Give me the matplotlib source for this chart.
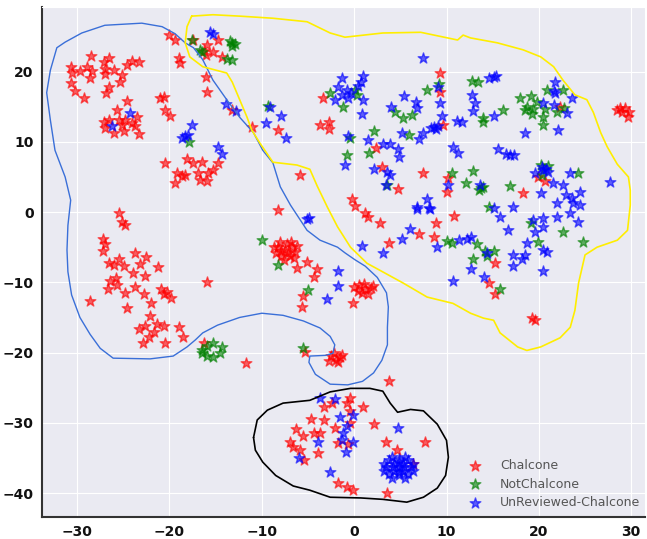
import numpy as np
import matplotlib
matplotlib.use("Agg")
import matplotlib.pyplot as plt
import seaborn as sns

# t-SNE coordinates
chalcone_x = [-28.5, -26.5, -27.1, -30.7, -30.6, -29.7, -28.9, -28.4, -28.6, -27.0, -27.0, -26.0, -25.1, -25.4,
              -24.6, -24.1, -23.3, -30.7, -30.2, -29.3, -26.5, -26.9,
              -25.7, -24.6, -27.1, -27.0, -25.5, -25.1, -24.1, -23.5, -23.7, -26.0, -24.9, -23.3, -26.5, -24.8,
              -21.0, -20.6, -20.5, -19.9, -20.0, -19.4, -19.0, -18.9,
              -17.4, -14.8, -15.9, -16.1, -15.3, -14.3, -16.3,
              -16.0, -15.9, -13.2, -11.1, -8.2, -5.9, -8.2, -3.4, -2.7, -3.7, -2.7,
              -17.4, -16.5, -16.9, -15.8, -15.3, -14.8, -16.7, -15.9, -20.5, -19.2, -18.3, -19.4, -18.1, -18.6,
              -25.5, -25.1, -24.8, -27.2, -27.0, -27.2, -26.5, -26.0, -25.5, -24.9, -23.7, -22.5, -23.2, -21.2,
              -23.9, -22.6, -26.4, -25.8, -26.7, -25.7, -24.8, -23.7, -22.8, -20.9, -20.3, -19.8, -20.6, -28.6,
              -24.6, -22.0, -22.1, -22.6, -23.3, -21.3, -20.6, -21.7, -22.2, -22.9, -20.5, -19.0, -18.5,
              -15.9, -16.3, -11.7, -5.3,
              -2.5, -2.0, -1.5, -2.2, -1.8, -2.7, -1.3,
              -7.5, -8.3, -6.7, -7.9, -7.0, -8.5, -6.4, -7.3, -8.0, -6.8, -7.6, -6.5, -8.7, -7.2, -6.2, -7.9,
              -5.1, -6.2, -4.0, -4.4, -5.5, -5.6,
              1.2, 0.5, 0.0, 1.8, 1.5, 0.8, 2.0, 1.1, 0.4, -0.1,
              0.1, 1.2, 1.5, 2.8, 3.8, 7.0, 8.9, 8.6, 10.8, 14.6, 15.3, 15.2, 19.3, 19.6, 3.8,
              9.3, 9.3, 9.6, 2.4, 3.0, 4.7, -0.2, 7.4, 10.2, 10.0, 18.3, 19.9, 20.7, 22.3,
              28.5, 29.0, 29.3, 29.6, 28.8, 29.8,
              -0.5, -2.4, -0.8, -3.3, 1.0, -0.5, -4.7, -3.3, -0.5, 2.1, -6.3, -2.1, -5.5, -4.3, -3.7, -7.0,
              -1.7, -0.7, -6.6, -5.9, -3.9, -5.4, -1.7, -0.8, -0.1, 3.6, 3.5, 7.7, 4.6, 6.4]
chalcone_y = [22.2, 21.9, 21.4, 20.7, 19.8, 20.1, 20.6, 20.1, 19.1, 20.4, 19.7, 20.2, 19.5, 18.5,
              20.9, 21.5, 21.4, 18.4, 17.2, 16.2, 17.8, 17.0,
              14.5, 15.8, 12.8, 12.0, 13.1, 12.4, 12.7, 13.5, 12.3, 11.3, 11.5, 11.1, 13.1, 13.1,
              16.2, 16.4, 14.5, 13.7, 25.2, 24.5, 21.9, 21.2,
              24.5, 24.5, 23.8, 22.4, 22.8, 22.1, 22.9,
              19.2, 17.1, 14.5, 12.1, 11.7, 5.3, 0.3, 16.2, 12.8, 12.4, 11.8,
              7.0, 7.1, 5.6, 5.6, 6.0, 7.0, 4.6, 4.4, 7.0, 5.6, 5.3, 4.1, 7.5, 5.1,
              -0.1, -1.4, -1.9, -3.8, -4.6, -5.6, -7.3, -7.5, -6.7, -7.7, -5.8, -6.4, -7.4, -7.8,
              -8.7, -9.1, -9.8, -9.4, -11.0, -10.4, -11.5, -10.7, -11.7, -11.0, -11.4, -12.3, -11.6, -12.7,
              -13.7, -13.0, -14.8, -16.2, -16.7, -16.0, -16.2, -17.1, -17.8, -18.7, -18.7, -16.4, -17.8,
              -9.9, -18.7, -21.5, -19.9,
              -20.5, -21.0, -20.7, -20.0, -21.3, -21.2, -20.3,
              -5.4, -5.0, -5.0, -6.2, -6.3, -5.8, -5.7, -4.5, -4.3, -4.2, -6.8, -6.6, -4.9, -5.8, -4.8, -5.5,
              -7.1, -8.0, -8.1, -9.2, -12.0, -13.5,
              -11.0, -10.4, -10.7, -10.8, -11.6, -11.5, -10.5, -10.2, -11.3, -13.0,
              0.8, -0.1, -0.7, -1.6, -4.4, -3.1, -1.6, -3.5, -0.6, -10.1, -7.3, -11.7, -15.1, -15.3, -24.1,
              19.8, 17.1, 12.4, 9.1, 6.4, 3.3, 1.9, 5.6, 4.8, 2.9, 2.7, 5.0, 4.4, 15.0,
              14.6, 14.3, 14.8, 13.6, 14.8, 14.3,
              -26.4, -27.2, -27.2, -27.8, -27.8, -28.3, -29.5, -29.6, -30.0, -30.2, -30.9, -30.8, -31.9, -31.5, -31.5, -32.8,
              -32.9, -33.0, -33.5, -33.9, -34.3, -35.3, -38.6, -39.2, -39.5, -40.0, -32.8, -32.8, -33.9, -35.9]

notchalcone_x = [-17.6, -16.7, -16.5, -13.2, -13.5, -12.9, -13.2, -13.8, -13.2, -9.3, -17.9, -10.0, -8.3, -5.0, -5.5,
                 -16.5, -15.9, -15.3, -14.3, -14.5, -15.3, -15.9, -16.5,
                 0.1, 0.3, -1.2, -2.6, 2.1, -0.5, -0.8, 1.6, 3.6, 7.9, 9.2, 4.4, 5.3, 6.3, 5.9, 12.8, 13.4, 14.0,
                 13.9, 10.6, 12.9, 12.1, 13.7, 13.9, 13.5, 16.9, 16.1,
                 18.0, 19.1, 19.8, 18.7, 19.4, 18.5, 20.7, 22.0, 22.7, 20.4, 19.3, 20.5, 20.9, 22.6,
                 20.2, 21.0, 20.3, 24.2,
                 19.1, 22.6, 24.8, 19.9, 14.6, 10.1, 10.6, 13.3, 12.9, 14.2, 15.1, 14.4, 15.8]
notchalcone_y = [24.5, 23.1, 22.8, 24.1, 24.4, 24.0, 23.7, 21.8, 21.7, 15.1, 10.0, -4.0, -7.6, -11.1, -19.4,
                 -19.7, -19.0, -18.7, -19.2, -20.1, -20.7, -20.5, -20.1,
                 17.4, 16.7, 15.0, 17.0, 11.5, 10.6, 8.1, 8.4, 3.8, 17.4, 18.3, 14.2, 13.4, 13.8, 11.0, 18.7, 18.5, 13.4,
                 12.8, 5.6, 5.8, 4.1, 3.4, 3.6, 3.1, 3.7, 14.5,
                 16.2, 16.5, 15.7, 15.0, 14.7, 14.5, 14.7, 14.2, 14.8, 13.5, 14.0, 12.4, 17.4, 17.4,
                 6.7, 6.6, 5.3, 5.6,
                 -1.6, -2.8, -4.3, -4.3, 0.7, -4.1, -4.4, -4.6, -6.7, -5.5, -5.5, -6.3, -11.0]

unreviewed_x = [-24.3, -26.2, -15.3, -15.6, -13.9, -12.8, -9.1, -9.6, -7.9, -7.4, -18.3, -18.0, -17.6, -18.6, -14.8,
                -14.3, -5.1, -4.9, -2.9, -1.8, -1.8,
                7.5, -1.3, 1.0, 0.7, -0.8, -1.3, -0.7, 1.0, 0.9, -2.1, -0.3, -1.8, 0.4, -0.7, 1.5, -1.0, 2.1, 3.6,
                3.9, 5.4, 6.7, 6.8, 9.1, 4.0, 9.3, 9.5, 8.6, 9.1, 8.9, 8.3, 5.2, 7.5, 7.0, 3.1, 3.9, 4.7, 4.8, 3.5,
                7.9, 6.8, 8.2, 11.1, 11.7, 10.7, 11.2, 14.6, 15.1, 15.4, 12.8, 13.1, 12.9, 15.1, 10.2, 13.6,
                21.7, 21.8, 21.6, 23.6, 20.5, 21.6, 23.1, 22.1, 18.5,
                15.6, 16.4, 16.9, 17.3,
                20.5, 21.0, 19.6, 20.8, 20.3, 23.4, 27.7,
                20.2, 21.5, 22.6, 24.5, 22.9, 23.6, 23.7, 22.0, 24.5, 17.2, 15.1,
                20.4, 19.4, 22.0, 23.4, 24.2, 20.4, 19.6, 20.5, 20.9, 18.7, 15.8, 16.7,
                0.9, 3.1, 5.2, 6.0, 6.8, 8.1, 9.0, 11.3, 12.6, 12.7, 10.7, 14.1, 14.4, 17.2, 18.2, 17.2, 20.5,
                12.2, 18.5,
                -3.7, -2.1, -0.1, -1.5, -0.8, -1.2, -3.9, -1.3, -0.1, -0.9, -6.0, -2.6, 4.7,
                4.8, 5.4, 4.2, 4.8, 4.8, 5.3, 4.3, 5.3, 4.3, 6.1, 3.5, 4.8, 4.8, 5.8, 3.8, 5.8, 3.8, 6.4, 3.2,
                6.4, 3.2, 5.5, 4.1, 5.5, 4.1]
unreviewed_y = [14.1, 12.2, 25.4, 25.6, 15.4, 14.4, 15.0, 12.7, 13.7, 10.5, 10.8, 11.0, 12.4, 10.6, 9.3,
                8.3, -1.0, -0.8, -12.4, -8.4, -10.5,
                21.9, 19.1, 19.4, 18.5, 17.4, 16.7, 16.2, 16.0, 14.0, 16.0, 17.0, 17.8, 18.0, 10.8, 10.3, 6.7, 6.1, 5.7,
                5.3, 16.5, 15.7, 14.8, 17.8, 15.0, 15.5, 13.7, 12.1, 12.3, 11.9, 12.0, 11.3, 11.3, 10.4, 9.7, 9.7, 9.0, 7.8, 3.8,
                1.9, 0.7, 0.5, 13.0, 12.8, 9.3, 8.4, 19.1, 19.2, 19.4, 16.7, 15.5, 14.4, 13.7, 3.8, 3.8,
                18.5, 16.9, 17.2, 16.2, 15.5, 15.2, 14.1, 11.7, 11.3,
                9.0, 8.3, 8.1, 8.1,
                6.0, 5.7, 5.6, 6.2, 6.4, 5.6, 4.3,
                2.7, 4.1, 3.8, 2.8, 2.4, 2.0, 1.3, 1.3, 1.0, 0.7, 0.6,
                -0.9, -1.1, -0.7, -0.1, -1.4, -2.1, -2.8, -5.4, -5.7, -4.4, -0.7, -2.6,
                -4.8, -5.8, -3.8, -2.4, 0.4, 0.6, -5.0, -4.0, -3.6, -8.1, -9.8, -9.3, -5.8, -6.1, -6.7, -7.7, -8.4,
                -3.9, -6.1,
                -26.4, -26.6, -28.9, -29.2, -30.5, -31.5, -32.8, -32.5, -32.8, -34.2, -35.0, -37.0, -30.8,
                -36.3, -36.3, -36.3, -35.6, -37.0, -35.8, -36.8, -36.8, -35.8, -36.3, -36.3, -35.1, -37.5, -35.3, -37.3,
                -37.3, -35.3, -35.8, -36.8, -36.8, -35.8, -34.8, -37.8, -37.8, -34.8]

# hand-drawn outlines, in data units
blue_line_x = [-18.3, -17.4, -16.4, -15.3, -13.8, -12.4, -10.9, -9.9, -8.8, -8.0, -6.9, -6.2, -5.1, -3.7, -1.8,
               -1.0, 0.1, 1.2, 2.5, 3.5, 3.7, 3.6, 3.6, 3.0, 2.1, 0.9, -0.7, -2.6, -4.2, -4.9, -4.8, -3.1, -2.3,
               -2.1, -2.6, -3.7, -5.5, -7.7, -10.0, -12.4, -14.8, -16.4, -17.2, -18.1, -19.6, -22.1, -26.1, -27.5,
               -28.6, -29.7, -30.6, -31.0, -31.1, -31.0, -30.7, -31.3, -32.4, -32.9, -33.3, -32.9, -32.2, -31.3,
               -29.5, -27.0, -23.0, -20.8, -19.4, -18.3]
blue_line_y = [24.1, 23.4, 21.7, 18.8, 16.0, 13.5, 11.3, 8.8, 7.0, 3.6, 1.0, -0.4, -2.6, -4.0, -5.0,
               -5.8, -6.8, -7.7, -9.3, -11.5, -13.5, -16.4, -18.9, -21.1, -22.9, -24.1, -24.6, -24.5, -23.1, -21.4,
               -20.5, -20.4, -20.1, -18.9, -17.7, -16.5, -15.5, -14.7, -14.4, -15.0, -16.1, -17.2, -18.2, -19.2,
               -20.5, -20.9, -20.8, -19.4, -17.4, -15.0, -11.8, -8.5, -5.4, -1.9, 1.7, 5.0, 8.8, 13.1, 17.0, 20.2,
               23.4, 24.2, 25.5, 26.6, 26.9, 26.4, 25.4, 24.1]

yellow_line_x = [-17.6, -15.3, -12.4, -8.8, -5.1, -2.6, -1.0, 3.1, 7.2, 11.2, 11.8, 12.6, 15.5, 18.3, 20.2, 21.6,
                 22.6, 23.9, 25.2, 25.9, 26.7, 27.4, 28.5, 29.7, 29.9, 29.9, 29.6, 28.5, 26.3, 25.0, 24.3, 23.9,
                 23.4, 22.3, 20.2, 18.7, 17.7, 15.8, 15.1, 14.0, 12.6, 10.7, 7.9, 5.3, 2.8, 1.4, -0.4, -1.8, -2.9,
                 -4.0, -4.8, -6.2, -8.8, -10.2, -11.1, -11.6, -12.4, -13.2, -13.8, -16.4, -17.8, -18.3, -18.1, -17.6]
yellow_line_y = [27.9, 28.1, 27.9, 27.6, 27.1, 25.5, 24.9, 25.5, 25.6, 24.5, 25.2, 24.8, 24.1, 23.1, 22.1, 20.7,
                 18.8, 16.7, 16.0, 14.2, 11.3, 9.3, 6.8, 5.0, 3.1, 1.0, -2.6, -4.0, -5.0, -6.1, -10.1, -14.0,
                 -16.4, -17.9, -19.2, -19.7, -19.2, -17.2, -15.4, -15.1, -14.4, -13.0, -12.1, -10.1, -8.3, -7.3,
                 -5.0, -2.1, 0.7, 3.7, 6.1, 6.7, 7.1, 9.8, 11.7, 13.5, 16.0, 18.5, 19.8, 20.7, 22.1, 24.1, 26.4, 27.9]

black_line_x = [-10.9, -10.5, -9.4, -7.7, -4.8, -2.6, -0.4, 1.7, 3.1, 3.9, 4.7, 6.1, 7.5, 9.0, 10.0, 10.2, 9.9,
                9.0, 7.5, 5.7, 3.1, 0.7, -2.6, -4.8, -6.6, -8.5, -9.9, -10.7, -10.9]
black_line_y = [-32.1, -29.6, -28.2, -27.2, -26.8, -25.6, -25.1, -25.1, -25.5, -27.2, -28.5, -28.1, -28.3, -30.2,
                -32.5, -34.9, -37.5, -39.3, -40.6, -41.3, -40.9, -40.7, -40.6, -39.6, -39.0, -37.5, -35.6, -33.9, -32.1]

sns.set_style("darkgrid")
plt.rcParams['font.family'] = ['DejaVu Sans']

fig = plt.figure(figsize=(6.47, 5.39), dpi=100)
ax = fig.add_axes([0.065, 0.041, 0.932, 0.946])

ax.scatter(chalcone_x, chalcone_y, marker='*', s=65, color='red', alpha=0.6, label='Chalcone')
ax.scatter(notchalcone_x, notchalcone_y, marker='*', s=65, color='green', alpha=0.6, label='NotChalcone')
ax.scatter(unreviewed_x, unreviewed_y, marker='*', s=65, color='blue', alpha=0.6, label='UnReviewed-Chalcone')

ax.plot(blue_line_x, blue_line_y, color='#3a6fd8', lw=1.0)
ax.plot(yellow_line_x, yellow_line_y, color='#ffee00', lw=1.2)
ax.plot(black_line_x, black_line_y, color='black', lw=1.2)

ax.set_xlim(-33.8, 31.5)
ax.set_ylim(-43.4, 29.2)
ax.set_xticks([-30, -20, -10, 0, 10, 20, 30])
ax.set_yticks([-40, -30, -20, -10, 0, 10, 20])
ax.tick_params(labelsize=10, length=0, pad=6)
for lab in ax.get_xticklabels() + ax.get_yticklabels():
    lab.set_fontweight('bold')
    lab.set_color('#111111')

for side in ['left', 'bottom']:
    ax.spines[side].set_visible(True)
    ax.spines[side].set_color('#333333')
    ax.spines[side].set_linewidth(1.5)

leg = ax.legend(loc='lower right', bbox_to_anchor=(1.0, 0.005), frameon=False, fontsize=9,
                handlelength=1.2, handletextpad=1.4, labelspacing=0.45, borderaxespad=0.0)
for t in leg.get_texts():
    t.set_color('#555555')

fig.savefig('out.png', dpi=100)
